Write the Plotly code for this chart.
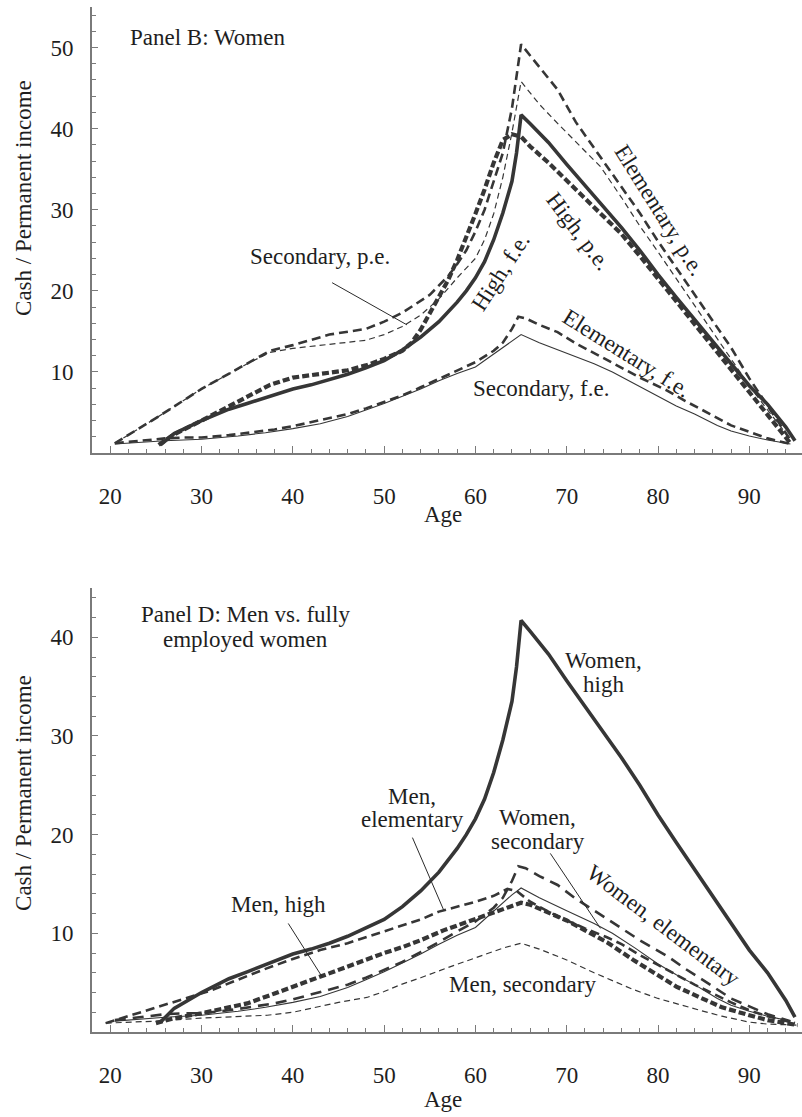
import plotly.graph_objects as go

# ---------------- DATA ----------------
# Panel B: Women (p.e. = partially employed, f.e. = fully employed)
elem_pe_age = [20.5, 25, 30, 35, 37.5, 40, 44, 48, 50, 52, 54, 55, 57, 58, 59, 60, 61, 62, 63, 64, 65,
               67, 69, 71, 73.7, 76, 78, 80, 82, 84, 86, 88, 90, 92, 94.5]
elem_pe_val = [1.2, 4.3, 7.9, 11.0, 12.6, 13.3, 14.6, 15.3, 16.2, 17.3, 18.8, 19.5, 21.8, 23.3, 25.0, 27.3, 30.0, 33.5, 37.0, 42.5, 50.4,
               47.6, 44.8, 40.8, 36.5, 32.7, 29.6, 26.1, 22.8, 19.5, 16.2, 13.0, 9.2, 5.8, 1.6]

sec_pe_age = [20.5, 25, 30, 35, 37.5, 40, 44, 48, 50, 52, 54, 56, 58, 60, 61, 62, 63, 64, 65,
              67, 69.3, 71.5, 73.7, 76, 78, 80, 82, 84, 86, 88, 90, 92, 94.5]
sec_pe_val = [1.2, 4.3, 7.9, 11.0, 12.4, 12.9, 13.4, 13.9, 14.6, 15.6, 17.0, 19.0, 21.6, 24.0, 26.3, 29.5, 34.0, 39.5, 45.8,
              43.0, 40.3, 37.8, 35.3, 31.5, 28.0, 24.8, 21.5, 18.2, 14.8, 11.5, 8.3, 5.3, 1.7]

high_pe_age = [25.3, 27, 30, 33, 35, 37.5, 40, 42, 44, 46, 48, 50, 52, 53, 54, 55, 56, 57, 58, 59, 60, 61, 62, 63, 64, 65,
               66, 68, 70, 72, 74, 76, 78, 80, 82, 84, 86, 88, 90, 92, 94.5]
high_pe_val = [1.0, 2.3, 4.0, 5.8, 6.9, 8.4, 9.3, 9.6, 9.8, 10.2, 10.8, 11.6, 12.6, 13.6, 15.2, 17.2, 19.3, 21.3, 23.8, 26.5, 29.5, 32.5, 35.8, 38.6, 39.3, 39.0,
               37.8, 35.8, 33.6, 31.5, 29.3, 27.0, 24.3, 21.5, 18.7, 15.9, 13.2, 10.4, 7.6, 4.9, 1.2]

high_fe_age = [25.5, 27, 30, 33, 35, 37.5, 40, 42, 44, 46, 48, 50, 52, 54, 56, 58, 59, 60, 61, 62, 63, 64, 64.5, 65,
               66, 68, 70, 72, 74, 76, 78, 80, 82, 84, 86, 88, 90, 92, 94, 95]
high_fe_val = [1.0, 2.4, 4.0, 5.4, 6.1, 7.0, 7.9, 8.4, 9.0, 9.7, 10.5, 11.4, 12.7, 14.3, 16.2, 18.6, 20.0, 21.6, 23.6, 26.3, 29.6, 33.5, 37.0, 41.7,
               40.6, 38.3, 35.6, 33.0, 30.4, 27.8, 25.0, 22.0, 19.2, 16.5, 13.8, 11.0, 8.3, 6.0, 3.2, 1.5]

elem_fe_age = [20.5, 23, 26, 28, 30, 33, 36, 38, 40, 42, 44, 46, 48, 50, 52, 54, 56, 58, 60, 62, 63, 64, 64.7, 65.5,
               67, 69, 71, 73.7, 76, 78, 81, 83, 85.7, 88, 90, 92, 94.5]
elem_fe_val = [1.2, 1.5, 1.8, 1.9, 1.9, 2.2, 2.6, 2.9, 3.3, 3.8, 4.3, 4.8, 5.5, 6.3, 7.1, 8.1, 9.1, 10.2, 11.2, 12.6, 13.6, 15.3, 16.8, 16.6,
               15.8, 14.9, 13.5, 11.9, 10.5, 9.3, 7.7, 6.4, 4.8, 3.4, 2.6, 1.8, 1.1]

sec_fe_age = [20.5, 23, 26, 30, 34, 37, 40, 43, 46, 48, 50, 52, 54, 56, 58, 60, 62, 64, 65,
              67, 70, 73, 75, 77.5, 80, 82, 84, 86.5, 88, 90, 92, 94.5]
sec_fe_val = [1.1, 1.3, 1.5, 1.7, 2.1, 2.5, 3.0, 3.6, 4.5, 5.3, 6.1, 7.0, 7.9, 8.9, 9.8, 10.6, 12.2, 13.9, 14.6,
              13.6, 12.3, 11.0, 10.0, 8.5, 6.9, 5.8, 4.8, 3.4, 2.7, 2.1, 1.6, 1.1]

# Panel D: Men
men_elem_age = [19.5, 22, 25, 28, 31, 34, 37, 40, 43, 46, 48, 50, 52, 54, 56, 58, 60, 62, 63.5, 64.5,
                66, 68, 70, 72, 74.4, 76, 78, 80, 82, 84, 86, 88, 90, 92, 95]
men_elem_val = [0.9, 1.6, 2.5, 3.3, 4.2, 5.3, 6.4, 7.4, 8.3, 9.0, 9.6, 10.2, 10.8, 11.4, 12.2, 12.7, 13.2, 13.8, 14.5, 14.3,
                13.2, 12.2, 11.3, 10.5, 9.6, 8.9, 7.8, 6.8, 5.8, 4.8, 3.9, 3.0, 2.2, 1.6, 0.9]

men_high_age = [25, 27, 30, 32, 35, 38, 40, 42.6, 45, 48, 50, 52, 54, 56.5, 58, 61, 63, 65,
                66, 68, 70, 72, 74.4, 77.3, 80, 82, 84.6, 87, 90, 92, 95.3]
men_high_val = [0.9, 1.4, 1.9, 2.3, 2.9, 3.9, 4.6, 5.5, 6.3, 7.3, 8.0, 8.6, 9.3, 10.3, 10.8, 11.8, 12.5, 13.1,
                12.9, 12.1, 11.3, 10.3, 9.1, 7.3, 5.7, 4.6, 3.5, 2.5, 1.7, 1.2, 0.7]

men_sec_age = [19.5, 25, 29.9, 34, 37.2, 40, 42.6, 45, 48.1, 50, 51.8, 54, 57.2, 59, 61.6, 63, 65,
               67, 70, 73, 77.3, 80, 84.6, 87, 90, 92, 95.3]
men_sec_val = [0.9, 1.1, 1.4, 1.6, 1.7, 2.0, 2.5, 3.0, 3.5, 4.1, 4.8, 5.5, 6.6, 7.2, 8.0, 8.5, 9.0,
               8.4, 7.3, 6.0, 4.3, 3.4, 2.2, 1.6, 1.0, 0.8, 0.7]

x_ticks = [20, 30, 40, 50, 60, 70, 80, 90]
y_ticks_b = [10, 20, 30, 40, 50]
y_ticks_d = [10, 20, 30, 40]

# ---------------- STYLE ----------------
C = "#363636"
FONT = "Liberation Serif"
FS = 23
TXT = "#1e1e1e"

thick_solid = dict(color=C, width=3.6)
thin_solid = dict(color=C, width=1.1)
thick_dash = dict(color=C, width=4.2, dash="7px,3px")
med_dash = dict(color=C, width=2.6, dash="9px,5px")
med_dash_big = dict(color=C, width=2.6, dash="11px,7px")
thin_dash = dict(color=C, width=1.2, dash="6px,4px")

fig = go.Figure()

def add(x, y, line, xa, ya):
    fig.add_trace(go.Scatter(x=x, y=y, mode="lines", line=line, xaxis=xa, yaxis=ya,
                             showlegend=False, hoverinfo="skip"))

# Panel B
add(sec_fe_age, sec_fe_val, thin_solid, "x", "y")
add(elem_fe_age, elem_fe_val, med_dash, "x", "y")
add(sec_pe_age, sec_pe_val, thin_dash, "x", "y")
add(elem_pe_age, elem_pe_val, med_dash, "x", "y")
add(high_pe_age, high_pe_val, thick_dash, "x", "y")
add(high_fe_age, high_fe_val, thick_solid, "x", "y")

# Panel D
add(men_sec_age, men_sec_val, thin_dash, "x2", "y2")
add(sec_fe_age, sec_fe_val, thin_solid, "x2", "y2")
add(men_elem_age, men_elem_val, med_dash, "x2", "y2")
add(elem_fe_age, elem_fe_val, med_dash_big, "x2", "y2")
add(men_high_age, men_high_val, thick_dash, "x2", "y2")
add(high_fe_age, high_fe_val, thick_solid, "x2", "y2")

AX = "#7a7a7a"
def xaxis_cfg():
    return dict(range=[18, 95.77], showline=True, linecolor=AX, linewidth=1.6, automargin=False,
                showgrid=False, zeroline=False, ticks="inside", ticklen=7, tickwidth=1.3,
                tickcolor=AX, tickmode="array", tickvals=x_ticks,
                ticktext=[str(v) for v in x_ticks], ticklabelstandoff=22,
                tickfont=dict(family=FONT, size=FS, color=TXT),
                minor=dict(tickmode="array", tickvals=list(range(18, 96, 2)), ticks="inside",
                           ticklen=4, tickwidth=1.1, tickcolor=AX))

def yaxis_cfg(rng, ticks):
    return dict(range=rng, showline=True, linecolor=AX, linewidth=1.6, automargin=False,
                showgrid=False, zeroline=False, ticks="inside", ticklen=6, tickwidth=1.3,
                tickcolor=AX, tickmode="array", tickvals=ticks,
                ticktext=[str(v) for v in ticks], ticklabelstandoff=12,
                tickfont=dict(family=FONT, size=FS, color=TXT),
                minor=dict(tickmode="array", tickvals=list(range(2, int(rng[1]) + 1, 2)), ticks="inside",
                           ticklen=4, tickwidth=1.1, tickcolor=AX))

fig.update_layout(
    width=802, height=1117,
    margin=dict(l=92, r=0, t=7, b=85, autoexpand=False),
    paper_bgcolor="white", plot_bgcolor="white",
    font=dict(family=FONT, size=FS, color=TXT),
    xaxis=dict(domain=[0, 1], anchor="y", **xaxis_cfg()),
    yaxis=dict(domain=[0.5649, 1], anchor="x", **yaxis_cfg([0, 55], y_ticks_b)),
    xaxis2=dict(domain=[0, 1], anchor="y2", **xaxis_cfg()),
    yaxis2=dict(domain=[0, 0.4332], anchor="x2", **yaxis_cfg([0, 45], y_ticks_d)),
)

def label(text, x, y, xr, yr, angle=0):
    fig.add_annotation(text=text, x=x, y=y, xref=xr, yref=yr, showarrow=False,
                       textangle=angle, xanchor="center", yanchor="middle",
                       font=dict(family=FONT, size=FS, color=TXT))

def pointer(x0, y0, x1, y1, xr, yr):
    fig.add_shape(type="line", x0=x0, y0=y0, x1=x1, y1=y1, xref=xr, yref=yr,
                  line=dict(color="#2a2a2a", width=1))

# Axis titles
label("Cash / Permanent income", -0.0958, 0.8137, "paper", "paper", -90)
label("Cash / Permanent income", -0.0958, 0.2332, "paper", "paper", -90)
label("Age", 0.4944, 0.5044, "paper", "paper")
label("Age", 0.4944, -0.0663, "paper", "paper")

# Panel B labels
label("Panel B: Women", 30.6, 51.2, "x", "y")
label("Secondary, p.e.", 43.0, 24.2, "x", "y")
pointer(44.3, 21.0, 52.5, 15.8, "x", "y")
label("High, f.e.", 62.7, 22.3, "x", "y", -57)
label("High, p.e.", 71.3, 27.3, "x", "y", 53)
label("Elementary, p.e.", 80.2, 29.9, "x", "y", 58)
label("Elementary, f.e.", 76.6, 12.3, "x", "y", 32)
label("Secondary, f.e.", 67.2, 8.0, "x", "y")

# Panel D labels
label("Panel D: Men vs. fully", 34.8, 42.3, "x2", "y2")
label("employed women", 34.8, 39.8, "x2", "y2")
label("Women,", 74.0, 37.6, "x2", "y2")
label("high", 74.0, 35.2, "x2", "y2")
label("Men,", 53.1, 23.9, "x2", "y2")
label("elementary", 53.1, 21.5, "x2", "y2")
pointer(53.1, 19.7, 56.5, 12.4, "x2", "y2")
label("Women,", 66.8, 21.7, "x2", "y2")
label("secondary", 66.8, 19.3, "x2", "y2")
pointer(68.2, 18.1, 73.7, 10.5, "x2", "y2")
label("Women, elementary", 80.6, 10.8, "x2", "y2", 37)
label("Men, secondary", 65.2, 4.8, "x2", "y2")
label("Men, high", 38.4, 12.9, "x2", "y2")
pointer(39.5, 11.0, 43.2, 5.6, "x2", "y2")

fig.write_html("out.html", config={"displayModeBar": False},
               post_script="document.body.style.margin='0px';document.body.style.overflow='hidden';")
